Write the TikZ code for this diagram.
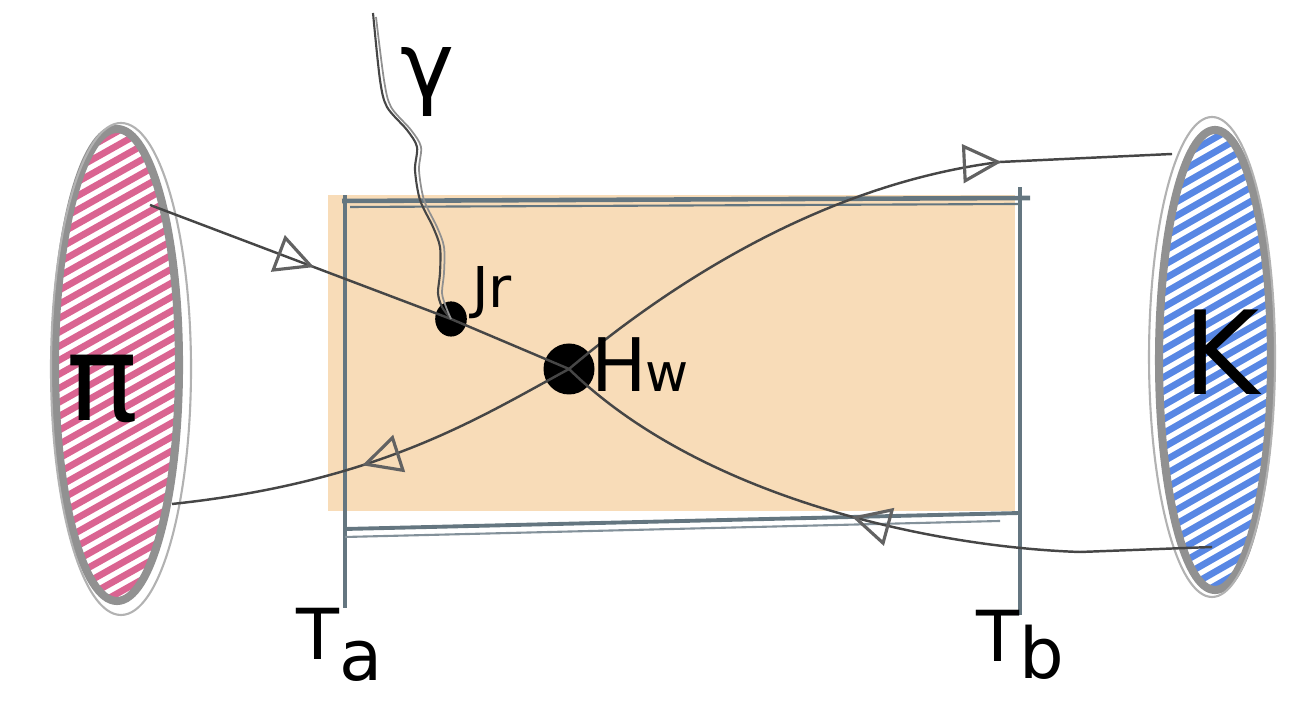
\documentclass[tikz,border=0pt]{standalone}
\usepackage{fontspec}
\setmainfont{DejaVu Sans}
\usetikzlibrary{arrows.meta,decorations.markings,shapes.geometric}
\definecolor{pinkh}{RGB}{218,100,145}
\definecolor{blueh}{RGB}{88,135,228}
\definecolor{rimgray}{RGB}{145,145,145}
\definecolor{boxfill}{RGB}{248,220,184}
\definecolor{boxline}{RGB}{100,118,128}
\definecolor{quark}{RGB}{70,70,70}
\tikzset{
  rim/.style={draw=rimgray, line width=2.3pt},
  quarkline/.style={draw=quark, line width=0.7pt},
  tri/.style={postaction={decorate},decoration={markings,
     mark=at position #1 with {\arrow[line width=0.9pt,color=quark!85]{Triangle[open,length=11pt,width=11pt]}}}},
  dotnode/.style={fill=black, inner sep=0pt},
  lab/.style={text=black, inner sep=0pt},
}
\begin{document}
\begin{tikzpicture}[x=0.01cm,y=0.01cm]
\useasboundingbox (0,0) rectangle (1292,707);

% box
\fill[boxfill] (328,196) rectangle (1015,512);
\draw[boxline, line width=1.3pt] (342,506) -- (1030,509);
\draw[boxline, line width=0.6pt] (350,500) -- (1020,503);
\draw[boxline, line width=1.2pt] (345,99) -- (345,512);
\draw[boxline, line width=1.2pt] (1020,92) -- (1020,520);
\draw[boxline, line width=1.1pt] (345,178) -- (1020,194);
\draw[boxline!80, line width=0.6pt] (345,170) -- (1000,186);

% left ellipse (pi)
\begin{scope}
  \clip (117,342) ellipse (60 and 234);
  \foreach \i in {-12,...,46}
    \draw[pinkh, line width=1.9pt] (40,\i*14) -- (200,\i*14+90);
\end{scope}
\draw[rim] (117,342) ellipse (62 and 236);
\draw[rimgray!70, line width=0.6pt] (121,338) ellipse (70 and 246);

% right ellipse (K)
\begin{scope}
  \clip (1215,347) ellipse (54 and 228);
  \foreach \i in {-12,...,46}
    \draw[blueh, line width=1.9pt] (1150,\i*14) -- (1290,\i*14+80);
\end{scope}
\draw[rim] (1215,347) ellipse (56 and 230);
\draw[rimgray!70, line width=0.6pt] (1212,350) ellipse (63 and 240);

% vertices
\node[dotnode, ellipse, minimum width=9pt, minimum height=10pt] (Jr) at (451,388) {};
\node[dotnode, circle, minimum size=14.5pt] (Hw) at (569,338) {};

% endpoints on the blobs
\coordinate (pitop) at (150,502);
\coordinate (pibot) at (172,203);
\coordinate (ktop) at (1172,553);
\coordinate (kbot) at (1212,160);
\coordinate (gtop) at (373,694);

% quark lines
\draw[quarkline, tri=0.39] (pitop) -- (Jr.center) -- (Hw.center);
\draw[quarkline, tri=0.74] (Hw.center) .. controls (690,440) and (840,525) .. (1000,545) -- (ktop);
\draw[quarkline, tri=0.53] (kbot) -- (1080,155) .. controls (930,160) and (700,210) .. (Hw.center);
\draw[quarkline, tri=0.54] (Hw.center) .. controls (480,290) and (380,225) .. (pibot);

% photon
\draw[quark, line width=0.6pt] plot[smooth] coordinates {(gtop) (380,627) (387,600) (407,577) (417,560) (415,537) (420,507) (433,480) (440,460) (440,434) (438,414) (442,400) (Jr.center)};
\draw[quark!60, line width=0.5pt] plot[smooth] coordinates {(376,690) (384,627) (391,600) (411,577) (421,560) (419,537) (424,507) (437,480) (444,460) (444,434) (442,414) (446,400) (Jr.center)};

% labels
\node[lab, font=\fontsize{34}{36}\selectfont] (pilab) at (102,318) {π};
\node[lab, font=\fontsize{33}{36}\selectfont] (klab) at (1222,355) {K};
\node[lab, font=\fontsize{26}{28}\selectfont] (glab) at (428,625) {γ};
\node[lab, font=\fontsize{16}{18}\selectfont] (jlab) at (492,414) {Jr};
\node[lab, font=\fontsize{21}{24}\selectfont] (hlab) at (640,342) {H\kern-0.03em{\fontsize{15}{16}\selectfont w}};
\node[lab, font=\fontsize{20}{22}\selectfont] (talab) at (340,62) {T\raisebox{-0.3em}{a}};
\node[lab, font=\fontsize{20}{22}\selectfont] (tblab) at (1020,62) {T\raisebox{-0.25em}{b}};
\end{tikzpicture}
\end{document}
